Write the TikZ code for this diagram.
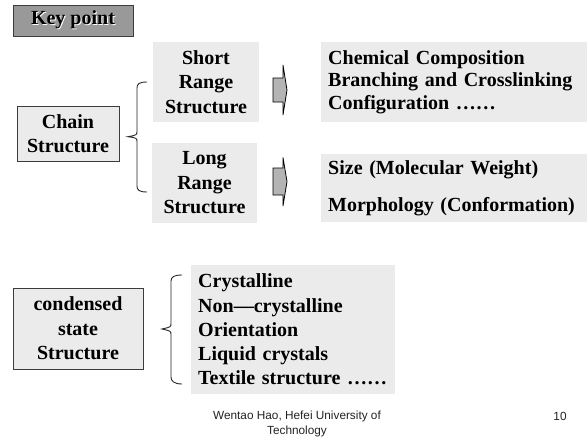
\documentclass[tikz,border=0pt]{standalone}
\usepackage{fontspec}
\setmainfont{Liberation Serif}
\newfontfamily\footfont{Liberation Sans}
\usepackage{xcolor}
\usepackage{tikz}
\usetikzlibrary{positioning}
\definecolor{boxbg}{HTML}{EBEBEB}
\definecolor{boxbd}{HTML}{3C3C3C}
\definecolor{keybg}{HTML}{999999}
\definecolor{arrowbg}{HTML}{B4B4B4}
\definecolor{footink}{HTML}{222222}
\tikzset{
  card/.style={fill=boxbg,inner sep=0pt,align=center,
               font=\bfseries\fontsize{20}{24.5}\selectfont},
  framed/.style={card,draw=boxbd,line width=0.8pt},
  listcard/.style={card,align=left,anchor=west,inner xsep=7pt},
  bracket/.style={line width=0.9pt,draw=black!85},
  blockarrow/.style={draw=black,fill=arrowbg,line width=0.8pt,line join=miter},
  foot/.style={text=footink,align=center,font=\footfont\fontsize{11.8}{15.5}\selectfont},
}

\begin{document}
\begin{tikzpicture}[x=1pt,y=-1pt]
  \useasboundingbox (0,0) rectangle (587,439);
  \node[framed,fill=keybg,minimum width=120pt,minimum height=31pt]
    (key)at(73,20.5)
    {\rlap{\kern1pt\raisebox{-1pt}{\color{white}Key point}}Key point};
  % chain structure
  \node[framed,minimum width=102pt,minimum height=55pt]
    (chain)at(68,133.5) {Chain\\Structure};
  \node[card,minimum width=106pt,minimum height=80pt]
    (short)at(206,82) {Short\\Range\\Structure};
  \node[card,minimum width=105pt,minimum height=80pt]
    (long)at(204.5,183) {Long\\Range\\Structure};
  \node[listcard,text width=252pt,minimum height=80pt,
        font=\bfseries\fontsize{20}{22.5}\selectfont]
    (shortlist)at(321,82)
    {Chemical Composition\\Branching and Crosslinking\\Configuration ……};
  \node[listcard,text width=252pt,minimum height=68pt,
        font=\bfseries\fontsize{20}{37}\selectfont]
    (longlist)at(321,188)
    {Size (Molecular Weight)\\Morphology (Conformation)};
  \draw[bracket] (147,82) .. controls (139,82) and (137,84) .. (137,88)
    -- (137,131) .. controls (137,135) .. (128,136.7)
    .. controls (137,138) .. (137,142) -- (137,186)
    .. controls (137,190) and (139,192) .. (147,192);
  \draw[blockarrow] (273,78) -- (283,78) -- (283,65) -- (287,90)
    -- (283,115) -- (283,102) -- (273,102) -- cycle;
  \draw[blockarrow] (273,168) -- (283,168) -- (283,157.5) -- (287,181.5)
    -- (283,206) -- (283,195) -- (273,195) -- cycle;
  % condensed state
  \node[framed,minimum width=130pt,minimum height=81pt]
    (cond)at(78,328.5) {condensed\\state\\Structure};
  \node[listcard,text width=190pt,minimum height=129pt,
        font=\bfseries\fontsize{20}{24.25}\selectfont]
    (condlist)at(191,329.5)
    {Crystalline\\Non—crystalline\\Orientation\\Liquid crystals\\Textile structure ……};
  \draw[bracket] (182,275) .. controls (174,275) and (171,277) .. (171,281)
    -- (171,323) .. controls (171,327) .. (162,329)
    .. controls (171,331) .. (171,335) -- (171,377)
    .. controls (171,381) and (174,384) .. (182,384);
  \node[foot] (credit)at(297,424) {Wentao Hao, Hefei University of\\Technology};
  \node[foot] (page)at(560,416) {10};
\end{tikzpicture}
\end{document}
